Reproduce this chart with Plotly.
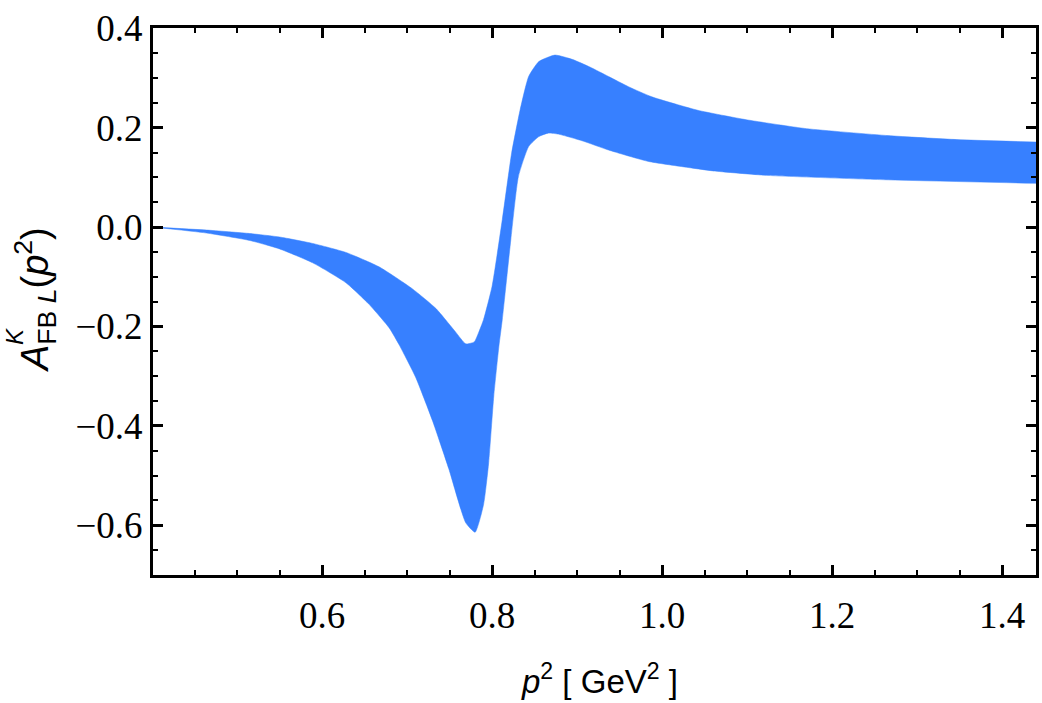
import plotly.graph_objects as go

# Upper boundary of the band (left to right)
upper_x = [0.401, 0.464, 0.515, 0.550, 0.589, 0.628, 0.667, 0.706, 0.734, 0.757,
           0.769, 0.779, 0.784, 0.790, 0.800, 0.812, 0.823, 0.833, 0.843, 0.855,
           0.874, 0.895, 0.915, 0.937, 0.961, 0.988, 1.042, 1.099, 1.170, 1.266,
           1.347, 1.440]
upper_y = [0.000, -0.006, -0.013, -0.020, -0.033, -0.051, -0.080, -0.124, -0.164, -0.211,
           -0.235, -0.231, -0.213, -0.186, -0.119, 0.015, 0.149, 0.236, 0.303, 0.333,
           0.346, 0.337, 0.322, 0.303, 0.282, 0.262, 0.235, 0.216, 0.198, 0.184,
           0.176, 0.171]

# Lower boundary of the band (left to right)
lower_x = [0.401, 0.464, 0.515, 0.550, 0.589, 0.628, 0.655, 0.679, 0.691, 0.710,
           0.730, 0.749, 0.769, 0.780, 0.790, 0.796, 0.802, 0.808, 0.812, 0.822,
           0.831, 0.843, 0.855, 0.866, 0.878, 0.907, 0.937, 0.984, 1.026, 1.060,
           1.123, 1.266, 1.440]
lower_y = [0.000, -0.012, -0.027, -0.044, -0.072, -0.112, -0.155, -0.203, -0.238, -0.302,
           -0.390, -0.486, -0.595, -0.614, -0.558, -0.474, -0.340, -0.240, -0.186, -0.026,
           0.102, 0.162, 0.182, 0.189, 0.187, 0.173, 0.155, 0.132, 0.121, 0.113,
           0.104, 0.095, 0.088]

band_color = "#3780ff"

fig = go.Figure()
fig.add_trace(go.Scatter(
    x=lower_x, y=lower_y,
    mode="lines",
    line=dict(color=band_color, width=0.5, shape="spline", smoothing=0.5),
    hoverinfo="skip", showlegend=False,
))
fig.add_trace(go.Scatter(
    x=upper_x, y=upper_y,
    mode="lines", fill="tonexty", fillcolor=band_color,
    line=dict(color=band_color, width=0.5, shape="spline", smoothing=0.5),
    hoverinfo="skip", showlegend=False,
))

tickfont = dict(family="Liberation Serif", size=37, color="black")
common = dict(
    showline=True, linewidth=3, linecolor="black", mirror="allticks",
    ticks="inside", ticklen=10, tickwidth=2.5, tickcolor="black",
    showgrid=False, zeroline=False, tickfont=tickfont, tickformat=".1f",
)

fig.update_xaxes(
    range=[0.401, 1.44], tickmode="linear", tick0=0, dtick=0.2,
    minor=dict(dtick=0.05, tick0=0, ticks="inside", ticklen=5, tickwidth=2,
               tickcolor="black", showgrid=False),
    ticklabelstandoff=6,
    **common,
)
fig.update_yaxes(
    range=[-0.7, 0.4005], tickmode="linear", tick0=0, dtick=0.2,
    minor=dict(dtick=0.05, tick0=0, ticks="inside", ticklen=5, tickwidth=2,
               tickcolor="black", showgrid=False),
    **common,
)

fig.update_layout(
    width=1042, height=703,
    margin=dict(l=153, r=3, t=28, b=128),
    paper_bgcolor="white", plot_bgcolor="white",
    annotations=[
        dict(
            text="<i>p</i><sup>2</sup> [ GeV<sup>2</sup> ]",
            xref="paper", yref="paper", x=0, y=0,
            xshift=446, yshift=-104,
            xanchor="center", yanchor="middle",
            showarrow=False, font=dict(family="Liberation Sans", size=33, color="black"),
        ),
        dict(
            text="<i>A</i><sub>FB <i>L</i></sub>(<i>p</i><sup>2</sup>)",
            xref="paper", yref="paper", x=0, y=1,
            xshift=-118, yshift=-272,
            xanchor="center", yanchor="middle", textangle=-90,
            showarrow=False, font=dict(family="Liberation Sans", size=38, color="black"),
        ),
        dict(
            text="<i>K</i>",
            xref="paper", yref="paper", x=0, y=1,
            xshift=-139, yshift=-309,
            xanchor="center", yanchor="middle", textangle=-90,
            showarrow=False, font=dict(family="Liberation Sans", size=24, color="black"),
        ),
    ],
)

fig.write_html("out.html")
